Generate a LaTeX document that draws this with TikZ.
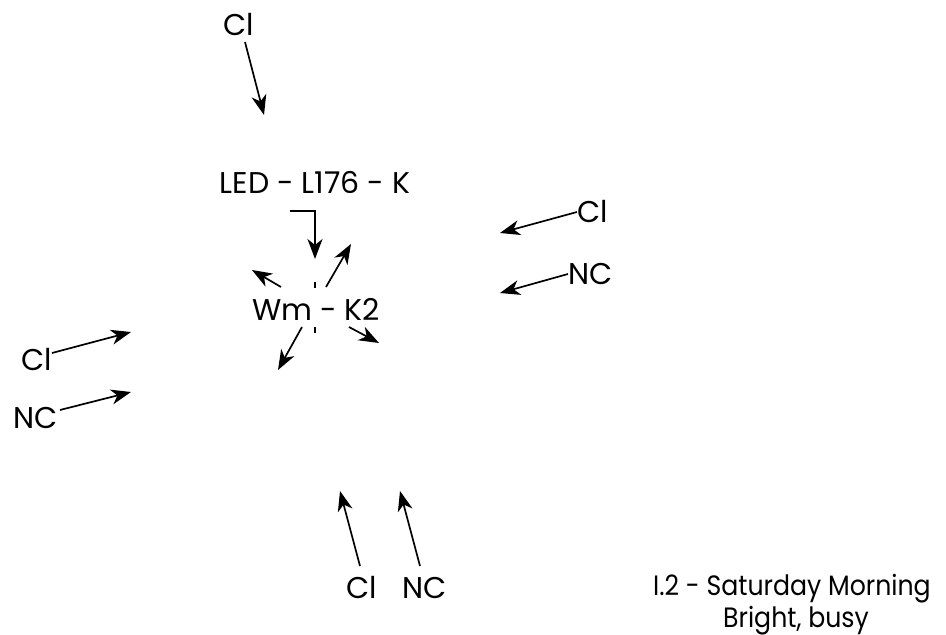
\documentclass[tikz,border=0pt]{standalone}
\usepackage{fontspec}
\setmainfont{Poppins}
\newfontfamily\capfont{Poppins}[FakeStretch=0.9]
\usetikzlibrary{arrows.meta}
\begin{document}
\begin{tikzpicture}[x=1pt,y=-1pt,
  lbl/.style={font=\fontsize{30}{36}\selectfont, inner sep=0pt, anchor=base},
  caplbl/.style={font=\capfont\fontsize{28}{32}\selectfont, inner sep=0pt, anchor=base},
  arr/.style={line width=1.7pt, -{Stealth[length=20pt,width=15pt,inset=6pt]}},
  tick/.style={line width=2pt}]
\useasboundingbox (0,0) rectangle (946,635);
% labels
\node[lbl] (clTop) at (239,35) {Cl};
\node[lbl] (led) at (315,193) {LED - L176 - K};
\node[lbl] (wm) at (316,320) {Wm - K2};
\node[lbl] (clR) at (593,222) {Cl};
\node[lbl] (ncR) at (591,284) {NC};
\node[lbl] (clL) at (37,370) {Cl};
\node[lbl] (ncL) at (36,428) {NC};
\node[lbl] (clB) at (362,598) {Cl};
\node[lbl] (ncB) at (425,598) {NC};
\node[caplbl] (cap1) at (792,595) {I.2 - Saturday Morning};
\node[caplbl] (cap2) at (796,627) {Bright, busy};
% coordinates
\coordinate (a1s) at (245,42);  \coordinate (a1e) at (264,115);
\coordinate (b0) at (290,211); \coordinate (b1) at (315,211); \coordinate (b2) at (315,259);
\coordinate (t1a) at (315,282); \coordinate (t1b) at (315,288);
\coordinate (t2a) at (315,327); \coordinate (t2b) at (315,333);
\coordinate (ur0) at (326,287); \coordinate (ur1) at (351,244);
\coordinate (ul0) at (281,287); \coordinate (ul1) at (252,270);
\coordinate (dl0) at (302,327); \coordinate (dl1) at (278,370);
\coordinate (dr0) at (349,327); \coordinate (dr1) at (379,343);
\coordinate (rc0) at (577,212); \coordinate (rc1) at (500,233);
\coordinate (rn0) at (568,274); \coordinate (rn1) at (500,293);
\coordinate (lc0) at (52,353);  \coordinate (lc1) at (131,332);
\coordinate (ln0) at (60,410);  \coordinate (ln1) at (131,392);
\coordinate (bc0) at (360,566); \coordinate (bc1) at (340,491);
\coordinate (bn0) at (420,566); \coordinate (bn1) at (400,491);
% connectors
\draw[arr] (a1s) -- (a1e);
\draw[arr] (b0) -- (b1) -- (b2);
\draw[tick] (t1a) -- (t1b);
\draw[tick] (t2a) -- (t2b);
\draw[arr] (ur0) -- (ur1);
\draw[arr] (ul0) -- (ul1);
\draw[arr] (dl0) -- (dl1);
\draw[arr] (dr0) -- (dr1);
\draw[arr] (rc0) -- (rc1);
\draw[arr] (rn0) -- (rn1);
\draw[arr] (lc0) -- (lc1);
\draw[arr] (ln0) -- (ln1);
\draw[arr] (bc0) -- (bc1);
\draw[arr] (bn0) -- (bn1);
\end{tikzpicture}
\end{document}
